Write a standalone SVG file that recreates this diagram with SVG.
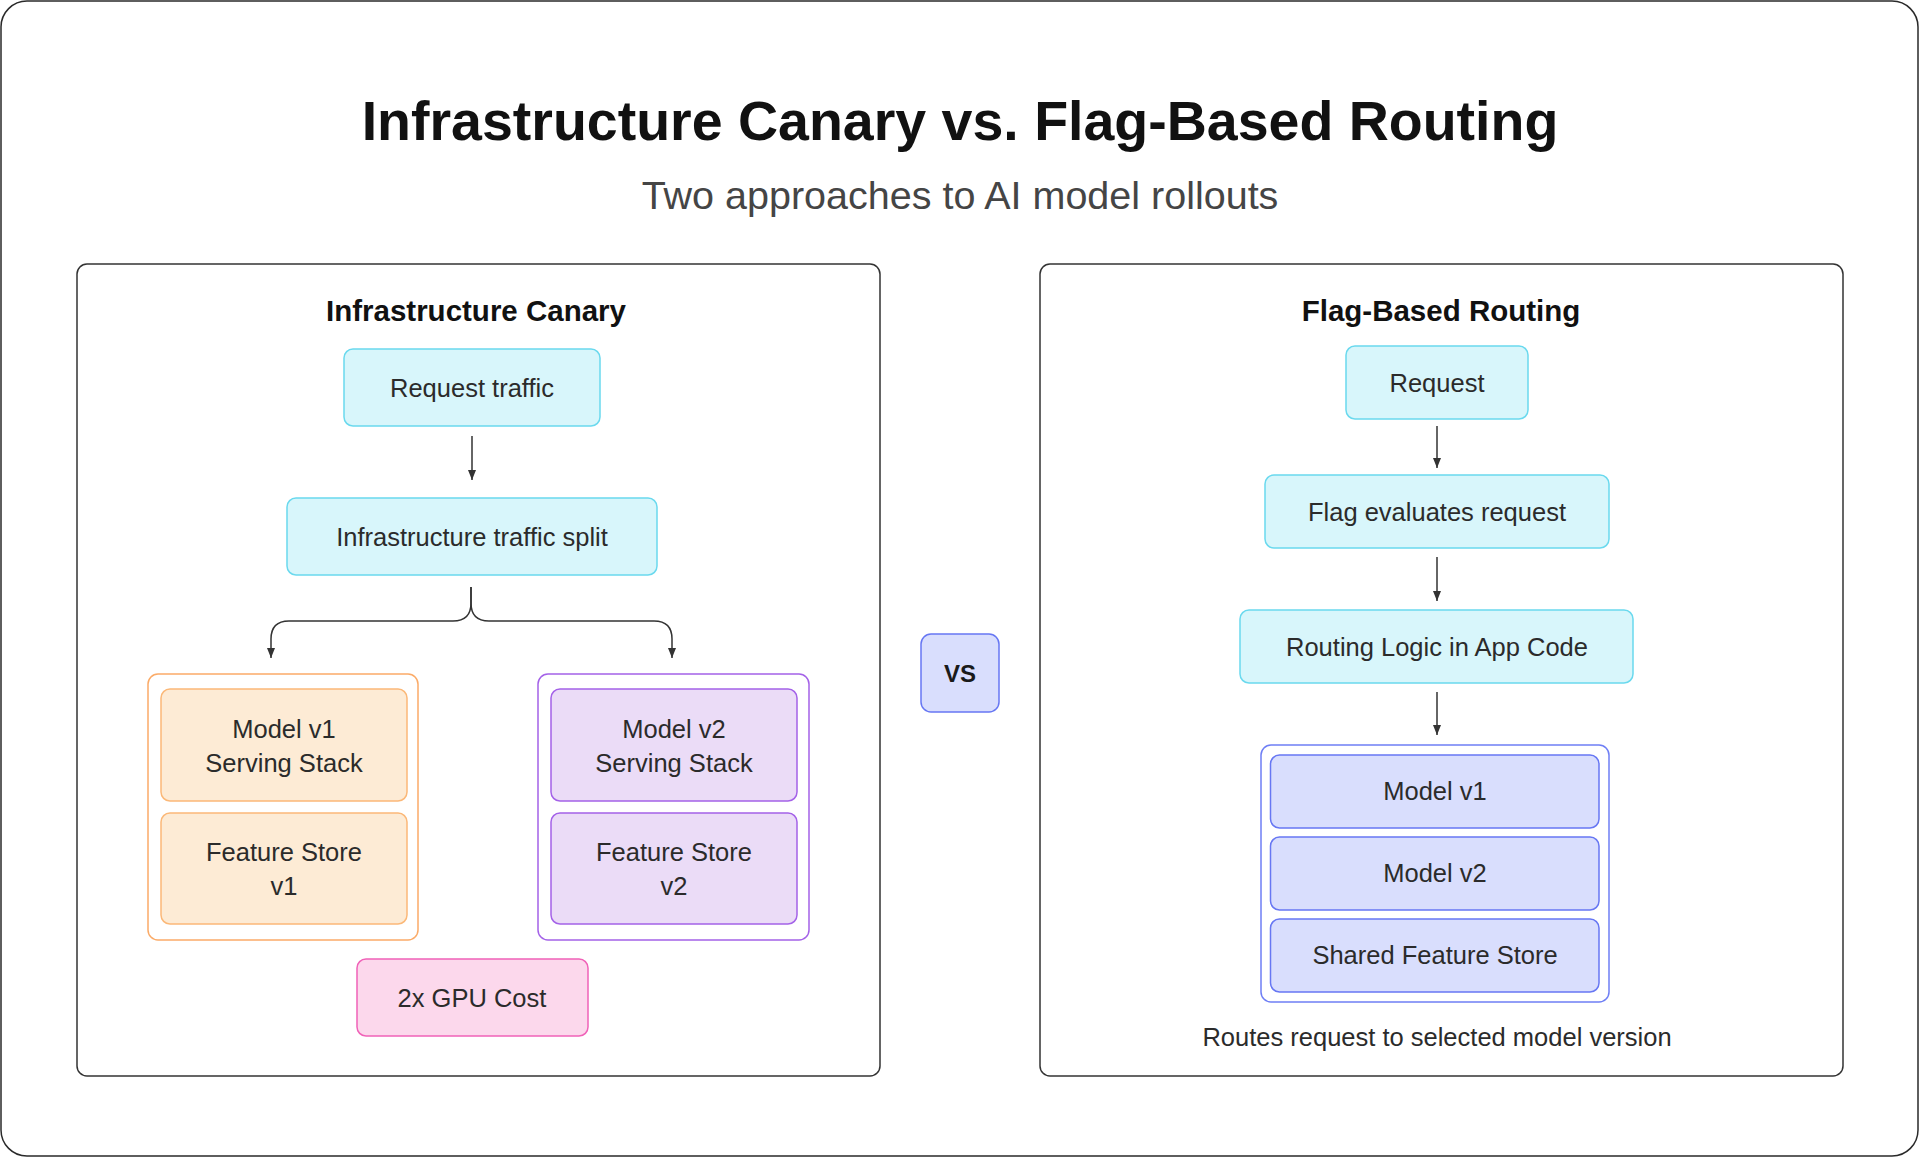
<svg xmlns="http://www.w3.org/2000/svg" width="1920" height="1158" viewBox="0 0 1920 1158">
<defs>
<style>
text{font-family:"Liberation Sans",Arial,sans-serif;text-anchor:middle;}
.title{font-size:55.5px;font-weight:bold;fill:#111111;}
.sub{font-size:39.5px;fill:#454545;}
.ptitle{font-size:29.5px;font-weight:bold;fill:#111111;}
.lbl{font-size:25.5px;fill:#2b2b2b;}
.vs{font-size:24px;font-weight:bold;fill:#1a1a1a;}
.panel{fill:#ffffff;stroke:#333333;stroke-width:1.5;}
.cyan{fill:#d8f6fb;stroke:#6ad9ee;stroke-width:1.5;}
.orange-c{fill:#ffffff;stroke:#fbab68;stroke-width:1.5;}
.orange{fill:#fdebd5;stroke:#fbb878;stroke-width:1.5;}
.purple-c{fill:#ffffff;stroke:#a462e8;stroke-width:1.5;}
.purple{fill:#ebdcf7;stroke:#a462e8;stroke-width:1.5;}
.pink{fill:#fcd8ec;stroke:#f062b8;stroke-width:1.5;}
.indigo-c{fill:#ffffff;stroke:#6f7ff5;stroke-width:1.5;}
.indigo{fill:#d9defd;stroke:#6777f3;stroke-width:1.5;}
.conn{fill:none;stroke:#333333;stroke-width:1.5;}
</style>
<marker id="arr" markerUnits="userSpaceOnUse" markerWidth="10" markerHeight="10" refX="10" refY="5" orient="auto">
<path d="M0,1 L10,5 L0,9 Z" fill="#333333"/>
</marker>
</defs>
<rect x="0" y="0" width="1920" height="1158" fill="#ffffff"/>
<rect x="1" y="1" width="1917" height="1155" rx="26" fill="#ffffff" stroke="#2a2a2a" stroke-width="1.5"/>
<g id="header">
<text class="title" x="960" y="140">Infrastructure Canary vs. Flag-Based Routing</text>
<text class="sub" x="960" y="209">Two approaches to AI model rollouts</text>
</g>
<g id="panel-left">
<rect class="panel" x="77" y="264" width="803" height="812" rx="10"/>
<text class="ptitle" x="476" y="321">Infrastructure Canary</text>
</g>
<g id="panel-right">
<rect class="panel" x="1040" y="264" width="803" height="812" rx="10"/>
<text class="ptitle" x="1441" y="321">Flag-Based Routing</text>
</g>
<g id="request-traffic">
<rect class="cyan" x="344" y="349" width="256" height="77" rx="9"/>
<text class="lbl" x="472" y="396.5">Request traffic</text>
</g>
<g id="traffic-split">
<rect class="cyan" x="287" y="498" width="370" height="77" rx="9"/>
<text class="lbl" x="472" y="545.5">Infrastructure traffic split</text>
</g>
<g id="stack-v1">
<rect class="orange-c" x="148" y="674" width="270" height="266" rx="10"/>
<rect class="orange" x="161" y="689" width="246" height="112" rx="9"/>
<text class="lbl" x="284" y="738">Model v1</text>
<text class="lbl" x="284" y="772">Serving Stack</text>
<rect class="orange" x="161" y="813" width="246" height="111" rx="9"/>
<text class="lbl" x="284" y="861">Feature Store</text>
<text class="lbl" x="284" y="895">v1</text>
</g>
<g id="stack-v2">
<rect class="purple-c" x="538" y="674" width="271" height="266" rx="10"/>
<rect class="purple" x="551" y="689" width="246" height="112" rx="9"/>
<text class="lbl" x="674" y="738">Model v2</text>
<text class="lbl" x="674" y="772">Serving Stack</text>
<rect class="purple" x="551" y="813" width="246" height="111" rx="9"/>
<text class="lbl" x="674" y="861">Feature Store</text>
<text class="lbl" x="674" y="895">v2</text>
</g>
<g id="gpu-cost">
<rect class="pink" x="357" y="959" width="231" height="77" rx="9"/>
<text class="lbl" x="472" y="1006.5">2x GPU Cost</text>
</g>
<g id="vs">
<rect class="indigo" x="921" y="634" width="78" height="78" rx="10"/>
<text class="vs" x="960" y="681.5">VS</text>
</g>
<g id="request">
<rect class="cyan" x="1346" y="346" width="182" height="73" rx="9"/>
<text class="lbl" x="1437" y="391.5">Request</text>
</g>
<g id="flag-eval">
<rect class="cyan" x="1265" y="475" width="344" height="73" rx="9"/>
<text class="lbl" x="1437" y="520.5">Flag evaluates request</text>
</g>
<g id="routing-logic">
<rect class="cyan" x="1240" y="610" width="393" height="73" rx="9"/>
<text class="lbl" x="1437" y="655.5">Routing Logic in App Code</text>
</g>
<g id="models">
<rect class="indigo-c" x="1261" y="745" width="348" height="257" rx="10"/>
<rect class="indigo" x="1270.5" y="755" width="328.5" height="73" rx="9"/>
<text class="lbl" x="1435" y="800">Model v1</text>
<rect class="indigo" x="1270.5" y="837" width="328.5" height="73" rx="9"/>
<text class="lbl" x="1435" y="882">Model v2</text>
<rect class="indigo" x="1270.5" y="919" width="328.5" height="73" rx="9"/>
<text class="lbl" x="1435" y="964">Shared Feature Store</text>
</g>
<g id="footer-note">
<text class="lbl" x="1437" y="1045.5">Routes request to selected model version</text>
</g>
<g id="connectors">
<path class="conn" d="M472,436 L472,480" marker-end="url(#arr)"/>
<path class="conn" d="M471,587 L471,603 Q471,621 453,621 L289,621 Q271,621 271,639 L271,658" marker-end="url(#arr)"/>
<path class="conn" d="M471,587 L471,603 Q471,621 489,621 L654,621 Q672,621 672,639 L672,658" marker-end="url(#arr)"/>
<path class="conn" d="M1437,426 L1437,468" marker-end="url(#arr)"/>
<path class="conn" d="M1437,557 L1437,601" marker-end="url(#arr)"/>
<path class="conn" d="M1437,692 L1437,735" marker-end="url(#arr)"/>
</g>
</svg>
